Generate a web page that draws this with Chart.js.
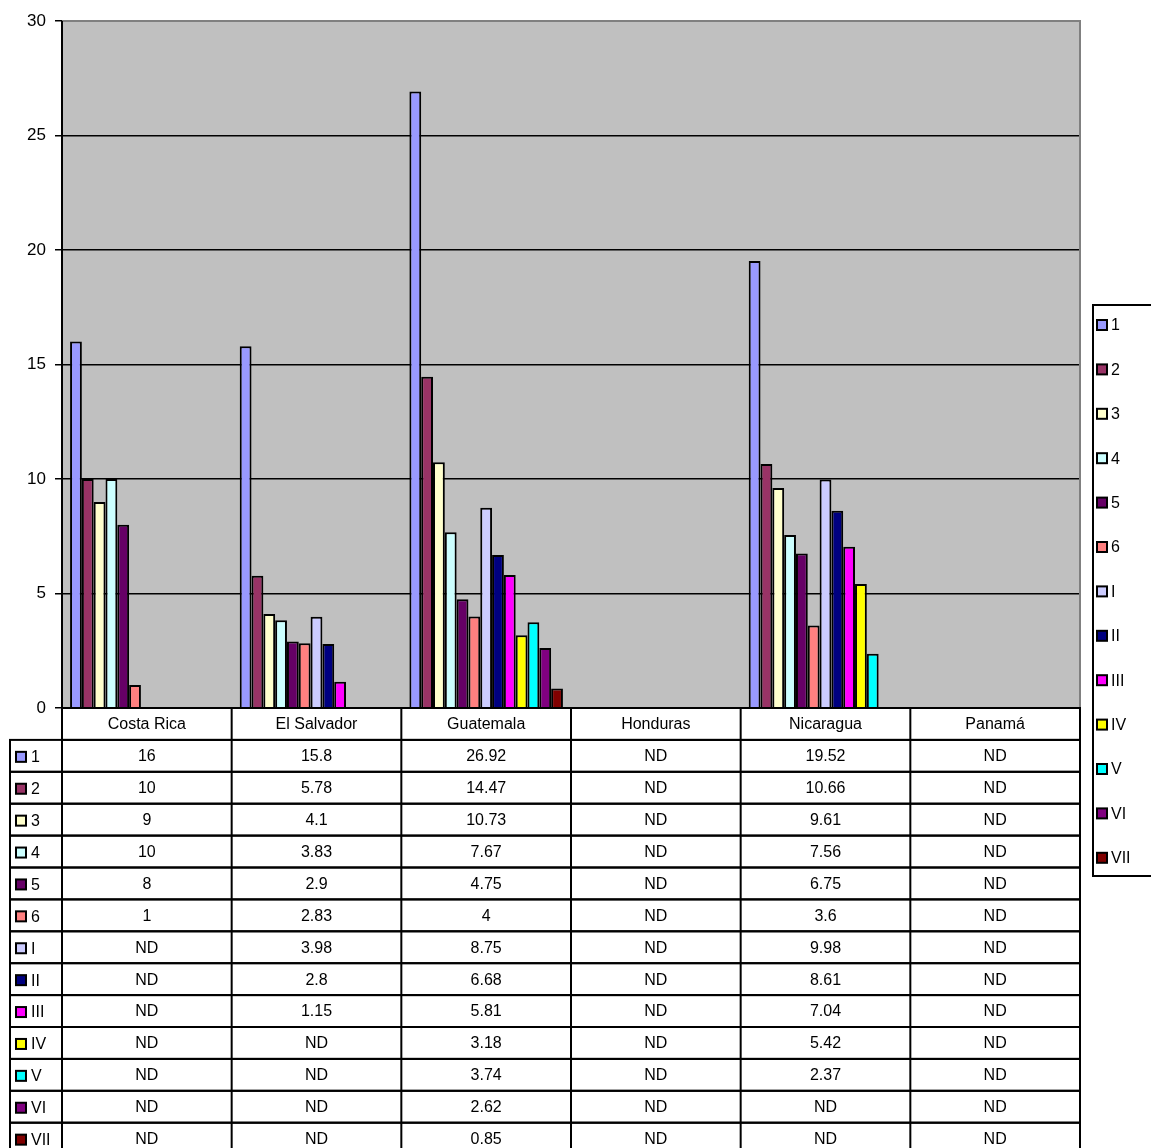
<!DOCTYPE html>
<html>
<head>
<meta charset="utf-8">
<script src="https://cdn.jsdelivr.net/npm/chart.js@4.4.1/dist/chart.umd.min.js"></script>
<style>
  html, body { margin: 0; padding: 0; background: #ffffff; }
  #wrap { width: 1151px; height: 1148px; position: relative; }
</style>
</head>
<body>
<div id="wrap"><canvas id="chart" width="1151" height="1148"></canvas></div>
<script>
// categories (countries)
var countries = ['Costa Rica', 'El Salvador', 'Guatemala', 'Honduras', 'Nicaragua', 'Panamá'];

// series names and colours (Excel default palette)
var seriesNames = ['1', '2', '3', '4', '5', '6', 'I', 'II', 'III', 'IV', 'V', 'VI', 'VII'];
var seriesColors = ['#9999FF', '#993366', '#FFFFCC', '#CCFFFF', '#660066', '#FF8080', '#CCCCFF',
                    '#000080', '#FF00FF', '#FFFF00', '#00FFFF', '#800080', '#800000'];

// values per series, one per country (null = ND)
var s1   = [16,   15.8, 26.92, null, 19.52, null];
var s2   = [10,   5.78, 14.47, null, 10.66, null];
var s3   = [9,    4.1,  10.73, null, 9.61,  null];
var s4   = [10,   3.83, 7.67,  null, 7.56,  null];
var s5   = [8,    2.9,  4.75,  null, 6.75,  null];
var s6   = [1,    2.83, 4,     null, 3.6,   null];
var sI   = [null, 3.98, 8.75,  null, 9.98,  null];
var sII  = [null, 2.8,  6.68,  null, 8.61,  null];
var sIII = [null, 1.15, 5.81,  null, 7.04,  null];
var sIV  = [null, null, 3.18,  null, 5.42,  null];
var sV   = [null, null, 3.74,  null, 2.37,  null];
var sVI  = [null, null, 2.62,  null, null,  null];
var sVII = [null, null, 0.85,  null, null,  null];
var seriesValues = [s1, s2, s3, s4, s5, s6, sI, sII, sIII, sIV, sV, sVI, sVII];

// y axis ticks
var yMin = 0, yMax = 30, yStep = 5;

var FONT = '"Liberation Sans", Arial, sans-serif';

var datasets = seriesNames.map(function(name, i) {
  return {
    label: name,
    data: seriesValues[i],
    backgroundColor: seriesColors[i],
    borderColor: '#000000',
    borderWidth: 2,
    borderSkipped: 'start'
  };
});

// gray plot background and border
var plotBackground = {
  id: 'plotBackground',
  beforeDraw: function(chart) {
    var a = chart.chartArea, ctx = chart.ctx;
    ctx.save();
    ctx.fillStyle = '#C0C0C0';
    ctx.fillRect(a.left, a.top, a.right - a.left, a.bottom - a.top);
    ctx.restore();
  },
  afterDatasetsDraw: function(chart) {
    var a = chart.chartArea, ctx = chart.ctx;
    ctx.save();
    ctx.strokeStyle = '#808080';
    ctx.lineWidth = 2;
    ctx.beginPath();
    ctx.moveTo(a.left, a.top);
    ctx.lineTo(a.right, a.top);
    ctx.lineTo(a.right, a.bottom);
    ctx.stroke();
    ctx.strokeStyle = '#000000';
    ctx.beginPath();
    ctx.moveTo(a.left, a.top);
    ctx.lineTo(a.left, a.bottom);
    ctx.stroke();
    ctx.restore();
  }
};

// data table under the plot
var dataTable = {
  id: 'dataTable',
  afterDraw: function(chart) {
    var ctx = chart.ctx, a = chart.chartArea, x = chart.scales.x;
    var colW = (a.right - a.left) / countries.length;
    var rowH = 31.9;
    var top = a.bottom;
    var firstLeft = 10;
    ctx.save();
    ctx.strokeStyle = '#000000';
    ctx.lineWidth = 2;
    ctx.fillStyle = '#000000';
    ctx.font = '16px ' + FONT;
    ctx.textBaseline = 'middle';

    // header row
    ctx.strokeRect(a.left, top, a.right - a.left, rowH);
    countries.forEach(function(c, j) {
      ctx.textAlign = 'center';
      ctx.fillText(c, x.getPixelForValue(j), top + rowH / 2 + 1);
    });

    // data rows
    seriesNames.forEach(function(name, i) {
      var y0 = top + rowH * (i + 1);
      ctx.strokeRect(firstLeft, y0, a.right - firstLeft, rowH);
      // swatch
      ctx.fillStyle = seriesColors[i];
      ctx.fillRect(16, y0 + rowH / 2 - 4, 10, 10);
      ctx.strokeRect(16, y0 + rowH / 2 - 4, 10, 10);
      ctx.fillStyle = '#000000';
      ctx.textAlign = 'left';
      ctx.fillText(name, 31, y0 + rowH / 2 + 2);
      seriesValues[i].forEach(function(v, j) {
        ctx.textAlign = 'center';
        ctx.fillText(v === null ? 'ND' : String(v), x.getPixelForValue(j), y0 + rowH / 2 + 1);
      });
    });

    // column lines
    ctx.beginPath();
    for (var j = 0; j <= countries.length; j++) {
      var lx = a.left + colW * j;
      ctx.moveTo(lx, top);
      ctx.lineTo(lx, top + rowH * (seriesNames.length + 1));
    }
    ctx.stroke();
    ctx.restore();
  }
};

// legend box on the right
var sideLegend = {
  id: 'sideLegend',
  afterDraw: function(chart) {
    var ctx = chart.ctx;
    var boxLeft = 1093, boxTop = 305, boxBottom = 876;
    var itemTop = 325, itemStep = 44.4;
    ctx.save();
    ctx.strokeStyle = '#000000';
    ctx.lineWidth = 2;
    ctx.strokeRect(boxLeft, boxTop, 80, boxBottom - boxTop);
    ctx.font = '16px ' + FONT;
    ctx.textBaseline = 'middle';
    ctx.textAlign = 'left';
    seriesNames.forEach(function(name, i) {
      var cy = itemTop + itemStep * i;
      ctx.fillStyle = seriesColors[i];
      ctx.fillRect(1097, cy - 5, 10, 10);
      ctx.strokeRect(1097, cy - 5, 10, 10);
      ctx.fillStyle = '#000000';
      ctx.fillText(name, 1111, cy + 1);
    });
    ctx.restore();
  }
};

new Chart(document.getElementById('chart').getContext('2d'), {
  type: 'bar',
  data: { labels: countries, datasets: datasets },
  options: {
    responsive: false,
    animation: false,
    devicePixelRatio: 1,
    layout: { padding: { left: 0, top: 21, right: 71, bottom: 440 } },
    datasets: { bar: { categoryPercentage: 0.905, barPercentage: 1.0 } },
    plugins: {
      legend: { display: false },
      tooltip: { enabled: false }
    },
    scales: {
      x: {
        display: false,
        offset: true
      },
      y: {
        min: yMin,
        max: yMax,
        ticks: {
          stepSize: yStep,
          color: '#000000',
          padding: 9,
          font: { family: FONT, size: 17 }
        },
        grid: {
          color: '#000000',
          lineWidth: 1.5,
          tickLength: 7,
          tickColor: '#000000'
        },
        border: { display: true, color: '#000000', width: 2 },
        afterFit: function(scale) { scale.width = 62; }
      }
    }
  },
  plugins: [plotBackground, dataTable, sideLegend]
});
</script>
</body>
</html>
